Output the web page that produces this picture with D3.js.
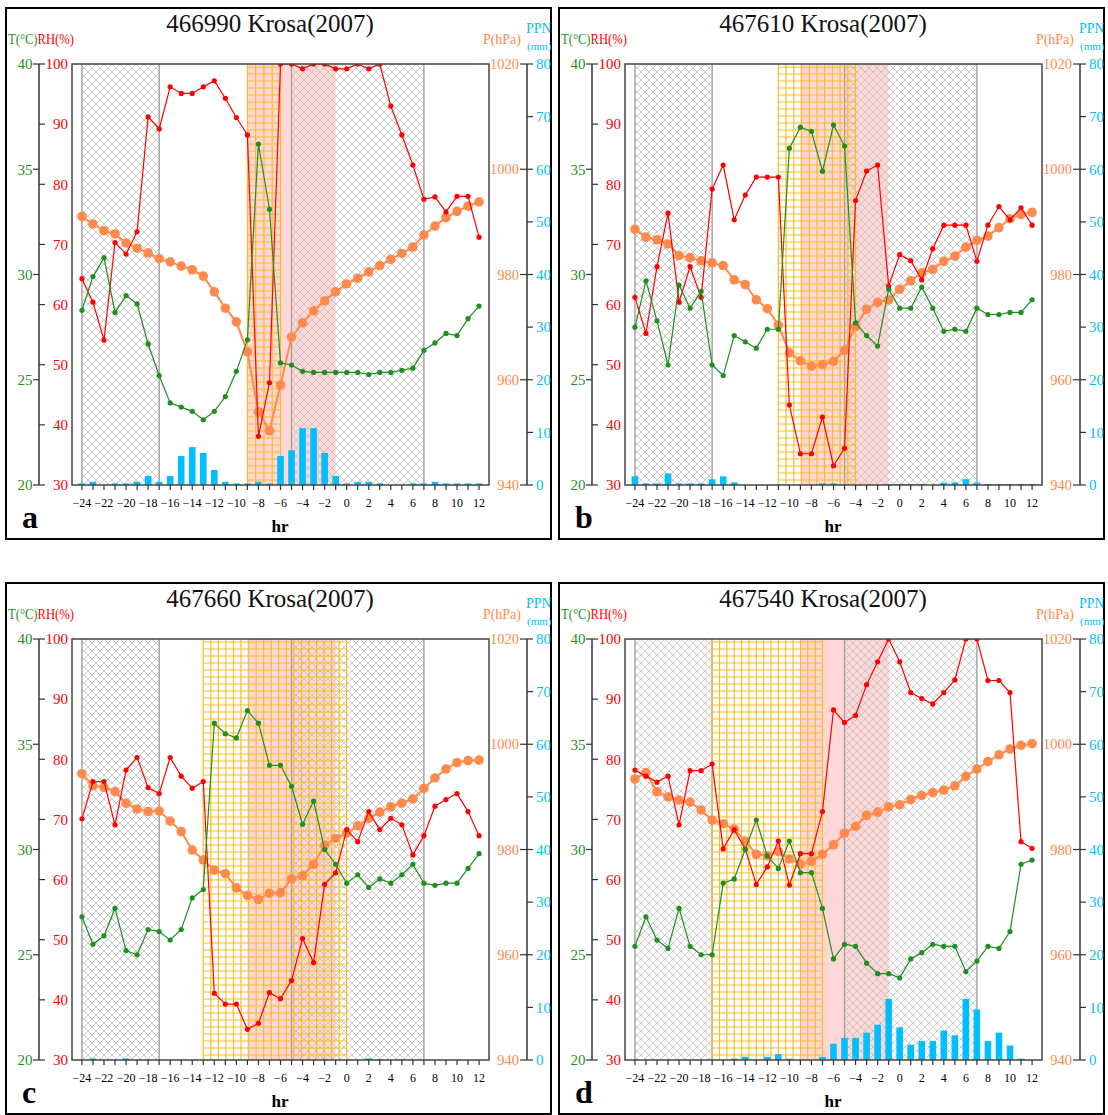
<!DOCTYPE html>
<html><head><meta charset="utf-8">
<script src="https://cdn.jsdelivr.net/npm/d3@7"></script>
<style>body{margin:0;background:#fff} svg{display:block}</style>
</head><body>
<svg id="chart" width="1108" height="1115"></svg>
<script>
// ---------------- DATA ----------------
const hours = d3.range(-24, 13); // -24 .. 12 hr
const titles = ["466990 Krosa(2007)", "467610 Krosa(2007)", "467660 Krosa(2007)", "467540 Krosa(2007)"];
const letters = ["a", "b", "c", "d"];

// Station 466990 (a)
const tA   = [28.3,29.9,30.8,28.2,29.0,28.6,26.7,25.2,23.9,23.7,23.5,23.1,23.5,24.2,25.4,26.9,36.2,33.1,25.8,25.7,25.4,25.35,25.35,25.35,25.35,25.35,25.25,25.35,25.35,25.45,25.55,26.4,26.75,27.2,27.1,27.9,28.5];
const rhA  = [64.3,60.4,54.1,70.3,68.4,72.1,91.2,89.2,96.2,95.1,95.1,96.2,97.2,94.3,91.1,88.2,38.1,47.0,100,100,99.2,100,100,99.2,99.2,100,99.2,100,93.0,88.2,83.2,77.5,77.9,75.4,78.0,78.0,71.2];
const pA   = [991.0,989.6,988.3,987.7,986.0,985.0,984.1,983.0,982.4,981.6,980.9,979.7,976.7,973.6,971.0,965.3,953.9,950.3,959.0,968.1,970.8,973.1,975.0,976.7,978.2,979.3,980.5,981.7,982.9,984.0,985.2,987.5,989.2,990.8,992.0,993.0,993.8];
const ppnA = [0.3,0.6,0,0.3,0.3,0.6,1.7,0.6,1.7,5.5,7.2,6.1,2.85,0.6,0.3,0.3,0.6,0.3,5.5,6.6,10.8,10.8,6.1,1.7,0.3,0.6,0.6,0.3,0,0,0.3,0.3,0.6,0.3,0.3,0.3,0.3];

// Station 467610 (b)
const tB   = [27.5,29.7,27.8,25.7,29.5,28.4,29.2,25.7,25.2,27.1,26.8,26.5,27.4,27.4,36.0,37.0,36.8,34.9,37.1,36.1,27.7,27.1,26.6,29.3,28.4,28.4,29.4,28.4,27.3,27.4,27.3,28.4,28.1,28.1,28.2,28.2,28.8];
const rhB  = [61.2,55.2,66.3,75.2,60.4,66.3,61.2,79.2,83.2,74.1,78.2,81.2,81.2,81.2,43.3,35.2,35.2,41.3,33.2,36.1,77.3,82.2,83.2,63.1,68.3,67.3,64.1,69.3,73.2,73.2,73.2,67.2,73.2,76.3,74.1,76.1,73.2];
const pB   = [988.6,987.1,986.6,985.8,983.6,983.2,982.6,982.2,981.7,979.0,978.1,975.2,973.5,970.4,965.1,963.6,962.6,962.9,963.5,965.6,970.1,973.4,974.7,975.2,977.2,978.8,980.3,981.0,982.5,983.5,985.2,986.5,987.3,988.9,990.6,991.4,991.8];
const ppnB = [1.65,0.3,0.3,2.2,0.3,0.3,0.3,1.1,1.65,0.5,0,0,0,0,0,0,0,0.3,0.3,0,0,0,0,0.2,0.2,0.2,0.2,0,0.45,0.5,1.1,0.45,0.2,0.2,0.2,0.2,0.2];

// Station 467660 (c)
const tC   = [26.8,25.5,25.9,27.2,25.2,25.0,26.2,26.1,25.7,26.2,27.7,28.1,36.0,35.5,35.3,36.6,36.0,34.0,34.0,33.0,31.2,32.3,30.0,29.3,28.4,28.8,28.2,28.6,28.4,28.8,29.3,28.4,28.3,28.4,28.4,29.1,29.8];
const rhC  = [70.1,76.3,76.3,69.1,78.2,80.3,75.3,74.3,80.3,77.2,75.2,76.3,41.1,39.3,39.3,35.1,36.1,41.2,40.2,43.2,50.2,46.2,59.2,61.1,68.3,66.3,71.3,68.3,70.2,69.1,64.1,67.3,72.2,73.3,74.3,71.3,67.3];
const pC   = [994.4,992.1,991.8,991.0,988.8,987.7,987.2,987.3,985.4,983.4,979.9,978.0,976.1,975.4,972.7,971.3,970.5,971.7,971.8,974.4,975.0,977.2,980.8,982.1,983.1,984.5,985.9,987.1,988.1,988.8,989.6,991.6,993.6,995.3,996.5,996.9,997.0];
const ppnC = [0,0.3,0,0,0.3,0,0,0,0,0,0,0,0,0,0,0,0,0,0,0,0,0,0.15,0,0,0,0.3,0.15,0,0.15,0,0,0,0,0,0,0];

// Station 467540 (d)
const tD   = [25.4,26.8,25.7,25.3,27.2,25.4,25.0,25.0,28.4,28.6,30.0,31.4,29.7,29.1,30.4,28.9,28.9,27.2,24.8,25.5,25.4,24.6,24.1,24.1,23.9,24.8,25.1,25.5,25.4,25.4,24.2,24.7,25.4,25.3,26.1,29.3,29.5];
const rhD  = [78.2,77.2,76.2,77.2,69.1,78.1,78.1,79.2,65.1,68.3,65.1,59.2,62.1,66.4,59.1,64.3,64.3,71.3,88.2,86.1,87.3,92.4,96.2,100,96.2,91.1,90.1,89.2,91.1,93.2,100,100,93.1,93.1,91.1,66.3,65.2];
const pD   = [993.4,994.6,991.0,990.0,989.4,989.0,987.5,985.6,984.9,983.9,981.6,979.1,978.8,979.6,978.2,977.2,977.8,979.1,980.9,983.1,984.4,986.5,987.1,988.1,988.5,989.5,990.3,990.8,991.3,992.1,993.9,995.3,996.7,998.0,999.1,999.8,1000.1];
const ppnD = [0,0,0,0,0,0,0,0,0,0.26,0.6,0,0.6,1.1,0.26,0,0,0.6,3.1,4.2,4.2,5.2,6.7,11.6,6.2,2.9,3.6,3.6,5.6,4.7,11.6,9.6,3.6,5.2,2.75,0.26,0];

// shaded periods (hr)
const hatchSpans = [[-24, -17], [-5, 7]];
const pinkSpans  = [[-9, -1]];
const gridSpans  = [[[-9, -6]], [[-11, -4]], [[-13, 0]], [[-17, -7]]];

// ticks
const tTicks   = [20, 25, 30, 35, 40];
const rhTicks  = [30, 40, 50, 60, 70, 80, 90, 100];
const pTicks   = [940, 960, 980, 1000, 1020];
const ppnTicks = [0, 10, 20, 30, 40, 50, 60, 70, 80];
const xLabelTicks = d3.range(-24, 13, 2);

// ---------------- DRAW ----------------
const FONT = "'Liberation Serif','DejaVu Serif',serif";
const C = {t: "#1f8f1f", rh: "#ff0000", p: "#ff8a4c", ppn: "#00bfff", pink: "#ffd7d7", hatch: "#c0c0c0", grid: "#f9bb2a"};
const series = [[tA, rhA, pA, ppnA], [tB, rhB, pB, ppnB], [tC, rhC, pC, ppnC], [tD, rhD, pD, ppnD]];
const offsets = [[0, 0], [553, 0], [0, 575], [553, 575]];
const PL = {left: 72, right: 489, top: 64, bottom: 485};

const svg = d3.select("#chart");
const defs = svg.append("defs");
const pat = defs.append("pattern").attr("id", "xhatch").attr("patternUnits", "userSpaceOnUse")
  .attr("width", 8).attr("height", 8);
pat.append("path").attr("d", "M0,0L8,8M8,0L0,8").attr("stroke", C.hatch).attr("stroke-width", 0.8).attr("fill", "none");

const x = d3.scaleLinear().domain([-24.9, 12.9]).range([PL.left, PL.right]);
const yT = d3.scaleLinear().domain([20, 40]).range([PL.bottom, PL.top]);
const yRH = d3.scaleLinear().domain([30, 100]).range([PL.bottom, PL.top]);
const yP = d3.scaleLinear().domain([940, 1020]).range([PL.bottom, PL.top]);
const yR = d3.scaleLinear().domain([0, 80]).range([PL.bottom, PL.top]);

series.forEach(([tv, rhv, pv, ppnv], i) => {
  const g = svg.append("g").attr("transform", `translate(${offsets[i][0]},${offsets[i][1]})`);
  // outer panel border
  g.append("rect").attr("x", 6).attr("y", 8).attr("width", 545).attr("height", 531)
    .attr("fill", "none").attr("stroke", "#000").attr("stroke-width", 2);

  const cid = "clip" + i;
  g.append("clipPath").attr("id", cid).append("rect")
    .attr("x", PL.left).attr("y", PL.top).attr("width", PL.right - PL.left).attr("height", PL.bottom - PL.top);
  const plot = g.append("g").attr("clip-path", `url(#${cid})`);

  // pink
  pinkSpans.forEach(([a, b]) => plot.append("rect").attr("x", x(a)).attr("y", PL.top)
    .attr("width", x(b) - x(a)).attr("height", PL.bottom - PL.top).attr("fill", C.pink));
  // cross hatch
  hatchSpans.forEach(([a, b]) => {
    plot.append("rect").attr("x", x(a)).attr("y", PL.top).attr("width", x(b) - x(a))
      .attr("height", PL.bottom - PL.top).attr("fill", "url(#xhatch)");
    [a, b].forEach(h => plot.append("line").attr("x1", x(h)).attr("x2", x(h))
      .attr("y1", PL.top).attr("y2", PL.bottom).attr("stroke", "#a0a0a0").attr("stroke-width", 1.4));
  });
  // orange grid
  gridSpans[i].forEach(([a, b]) => {
    const gg = plot.append("g").attr("stroke", C.grid).attr("stroke-width", 1.2);
    const x0 = x(a), x1 = x(b);
    const n = Math.round((x1 - x0) / 7.6);
    const dx = (x1 - x0) / n;
    d3.range(n + 1).forEach(k => gg.append("line").attr("x1", x0 + k * dx).attr("x2", x0 + k * dx)
      .attr("y1", PL.top).attr("y2", PL.bottom));
    d3.range(PL.top + 3, PL.bottom, 7).forEach(yy => gg.append("line").attr("x1", x0).attr("x2", x1)
      .attr("y1", yy).attr("y2", yy));
  });

  // precipitation bars
  plot.selectAll("rect.bar").data(hours.map((h, k) => ({h, v: ppnv[k]})).filter(d => d.v > 0))
    .join("rect").attr("class", "bar")
    .attr("x", d => x(d.h) - 3.3).attr("width", 6.6)
    .attr("y", d => yR(d.v)).attr("height", d => yR(0) - yR(d.v)).attr("fill", C.ppn);

  const drawSeries = (vals, ys, col, lw, r) => {
    const pts = hours.map((h, k) => ({h, v: vals[k]}));
    plot.append("path").datum(pts).attr("fill", "none").attr("stroke", col).attr("stroke-width", lw)
      .attr("d", d3.line().x(d => x(d.h)).y(d => ys(d.v)));
    plot.selectAll(null).data(pts).join("circle").attr("cx", d => x(d.h)).attr("cy", d => ys(d.v))
      .attr("r", r).attr("fill", col);
  };
  drawSeries(pv, yP, C.p, 2, 4.8);
  drawSeries(rhv, yRH, C.rh, 1.2, 2.6);
  drawSeries(tv, yT, C.t, 1.2, 2.6);

  // frame
  g.append("rect").attr("x", PL.left).attr("y", PL.top).attr("width", PL.right - PL.left)
    .attr("height", PL.bottom - PL.top).attr("fill", "none").attr("stroke", "#444").attr("stroke-width", 1.5);

  // x axis ticks
  g.append("g").selectAll("line").data(hours).join("line")
    .attr("x1", d => x(d)).attr("x2", d => x(d)).attr("y1", PL.bottom).attr("y2", PL.bottom + 5)
    .attr("stroke", "#333").attr("stroke-width", 1.2);
  g.append("g").selectAll("text").data(xLabelTicks).join("text")
    .attr("x", d => x(d)).attr("y", 507).attr("text-anchor", "middle")
    .attr("font-family", FONT).attr("font-size", 12).attr("fill", "#000")
    .text(d => d < 0 ? "\u2212" + Math.abs(d) : d);

  // left axis
  const LX = 39;
  g.append("line").attr("x1", LX).attr("x2", LX).attr("y1", PL.top).attr("y2", PL.bottom)
    .attr("stroke", "#333").attr("stroke-width", 1.5);
  g.append("g").selectAll("line").data(tTicks).join("line")
    .attr("x1", LX - 6).attr("x2", LX).attr("y1", d => yT(d)).attr("y2", d => yT(d)).attr("stroke", "#333").attr("stroke-width", 1.2);
  g.append("g").selectAll("line").data(rhTicks).join("line")
    .attr("x1", LX).attr("x2", LX + 6).attr("y1", d => yRH(d)).attr("y2", d => yRH(d)).attr("stroke", "#333").attr("stroke-width", 1.2);
  g.append("g").selectAll("text").data(tTicks).join("text")
    .attr("x", LX - 6.5).attr("y", d => yT(d)).attr("dy", "0.35em").attr("text-anchor", "end")
    .attr("font-family", FONT).attr("font-size", 15).attr("fill", C.t).text(d => d);
  g.append("g").selectAll("text").data(rhTicks).join("text")
    .attr("x", 68).attr("y", d => yRH(d)).attr("dy", "0.35em").attr("text-anchor", "end")
    .attr("font-family", FONT).attr("font-size", 15).attr("fill", C.rh).text(d => d);

  // right axis
  const RX = 527;
  g.append("line").attr("x1", RX).attr("x2", RX).attr("y1", PL.top).attr("y2", PL.bottom)
    .attr("stroke", "#333").attr("stroke-width", 1.5);
  g.append("g").selectAll("line").data(pTicks).join("line")
    .attr("x1", RX - 7).attr("x2", RX).attr("y1", d => yP(d)).attr("y2", d => yP(d)).attr("stroke", "#333").attr("stroke-width", 1.2);
  g.append("g").selectAll("line").data(ppnTicks).join("line")
    .attr("x1", RX).attr("x2", RX + 6).attr("y1", d => yR(d)).attr("y2", d => yR(d)).attr("stroke", "#333").attr("stroke-width", 1.2);
  g.append("g").selectAll("text").data(pTicks).join("text")
    .attr("x", 519).attr("y", d => yP(d)).attr("dy", "0.35em").attr("text-anchor", "end")
    .attr("font-family", FONT).attr("font-size", 14.5).attr("fill", C.p).text(d => d);
  g.append("g").selectAll("text").data(ppnTicks).join("text")
    .attr("x", 536).attr("y", d => yR(d)).attr("dy", "0.35em").attr("text-anchor", "start")
    .attr("font-family", FONT).attr("font-size", 15).attr("fill", C.ppn).text(d => d);

  // titles & labels
  g.append("text").attr("x", 270).attr("y", 32).attr("text-anchor", "middle")
    .attr("font-family", FONT).attr("font-size", 25).attr("fill", "#111").text(titles[i]);
  const lt = g.append("text").attr("x", 8).attr("y", 44).attr("font-family", FONT).attr("font-size", 14)
    .attr("textLength", 66).attr("lengthAdjust", "spacingAndGlyphs");
  lt.append("tspan").attr("fill", C.t).text("T(\u00B0C)");
  lt.append("tspan").attr("fill", C.rh).text("RH(%)");
  g.append("text").attr("x", 521).attr("y", 44).attr("text-anchor", "end")
    .attr("font-family", FONT).attr("font-size", 14).attr("fill", C.p).text("P(hPa)");
  g.append("text").attr("x", 526).attr("y", 33).attr("font-family", FONT).attr("font-size", 14)
    .attr("fill", C.ppn).text("PPN");
  g.append("text").attr("x", 527).attr("y", 50).attr("font-family", FONT).attr("font-size", 11)
    .attr("fill", C.ppn).text("(mm)");
  g.append("text").attr("x", 280).attr("y", 532).attr("text-anchor", "middle")
    .attr("font-family", FONT).attr("font-size", 17).attr("font-weight", "bold").text("hr");
  g.append("text").attr("x", 22).attr("y", 528)
    .attr("font-family", FONT).attr("font-size", 32).attr("font-weight", "bold").text(letters[i]);
});
</script>
</body></html>
